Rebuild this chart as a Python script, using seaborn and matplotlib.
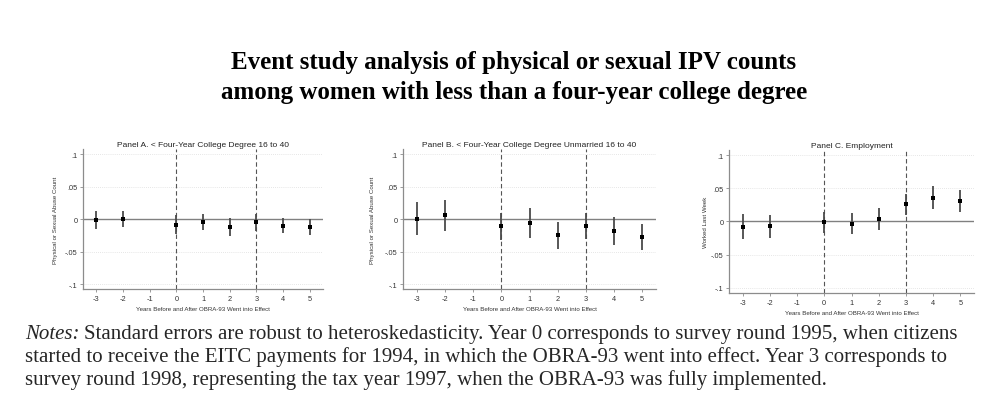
import numpy as np
import pandas as pd
import matplotlib
matplotlib.use('Agg')
import matplotlib.pyplot as plt
import seaborn as sns

# Event-time (years relative to OBRA-93)
years = [-3, -2, 0, 1, 2, 3, 4, 5]

# Panel A: < four-year college degree, 16 to 40
est_a = [-0.002, 0.000, -0.009, -0.004, -0.012, -0.005, -0.010, -0.013]
lo_a = [-0.015, -0.013, -0.023, -0.017, -0.026, -0.018, -0.022, -0.025]
hi_a = [0.012, 0.013, 0.006, 0.008, 0.001, 0.008, 0.001, 0.000]

# Panel B: < four-year college degree, unmarried 16 to 40
est_b = [0.000, 0.006, -0.011, -0.006, -0.025, -0.010, -0.018, -0.027]
lo_b = [-0.025, -0.018, -0.032, -0.029, -0.046, -0.031, -0.040, -0.047]
hi_b = [0.026, 0.030, 0.009, 0.017, -0.005, 0.009, 0.003, -0.008]

# Panel C: employment
est_c = [-0.008, -0.007, -0.001, -0.0035, 0.004, 0.026, 0.036, 0.031]
lo_c = [-0.027, -0.025, -0.017, -0.019, -0.0125, 0.010, 0.019, 0.015]
hi_c = [0.011, 0.010, 0.015, 0.0125, 0.020, 0.042, 0.053, 0.048]

panel_titles = ['Panel A. < Four-Year College Degree 16 to 40',
                'Panel B. < Four-Year College Degree Unmarried 16 to 40',
                'Panel C. Employment']
ylabels = ['Physical or Sexual Abuse Count', 'Physical or Sexual Abuse Count',
           'Worked Last Week']
xlabel = 'Years Before and After OBRA-93 Went into Effect'
xticks = [-3, -2, -1, 0, 1, 2, 3, 4, 5]
yticks = [-0.1, -0.05, 0, 0.05, 0.1]
yticklabels = ['-.1', '-.05', '0', '.05', '.1']
event_lines = [0, 3]

sns.set_theme(style='white')
plt.rcParams['font.family'] = ['Liberation Sans', 'DejaVu Sans']

fig = plt.figure(figsize=(10, 4.14), dpi=100)

# axes boxes in figure fractions
boxes = [[0.083, 0.2995, 0.240, 0.338],
         [0.403, 0.2995, 0.253, 0.338],
         [0.729, 0.2899, 0.245, 0.3454]]
pads = [5, 7, 2]

panels = [(est_a, lo_a, hi_a), (est_b, lo_b, hi_b), (est_c, lo_c, hi_c)]
axis_grey = '#8c8c8c'
text_grey = '#333333'

for i, (est, lo, hi) in enumerate(panels):
    ax = fig.add_axes(boxes[i])
    df = pd.DataFrame({'year': years, 'est': est, 'lo': lo, 'hi': hi})

    # faint dotted grid
    for yv in [-0.1, -0.05, 0.05, 0.1]:
        ax.axhline(yv, color='#dedede', lw=0.6, ls=(0, (1, 1.5)), zorder=0)
    ax.axhline(0, color='#808080', lw=1.0, zorder=1)
    for xv in event_lines:
        ax.axvline(xv, color='#555555', lw=0.8, ls=(0, (4, 2.5)), zorder=1)

    ax.vlines(df['year'], df['lo'], df['hi'], color='#4a4a4a', lw=1.3, zorder=2)
    sns.scatterplot(data=df, x='year', y='est', ax=ax, marker='s', s=8,
                    color='black', edgecolor='black', linewidth=0, zorder=3)

    ax.set_xlim(-3.5, 5.5)
    ax.set_ylim(-0.1077, 0.1077)
    ax.set_xticks(xticks)
    ax.set_xticklabels([str(t) for t in xticks])
    ax.set_yticks(yticks)
    ax.set_yticklabels(yticklabels)
    ax.tick_params(axis='both', labelsize=5.3, colors=axis_grey, labelcolor=text_grey,
                   length=2.5, width=0.6, pad=1.5, direction='out',
                   bottom=True, left=True)

    for side in ['top', 'right']:
        ax.spines[side].set_visible(False)
    for side in ['left', 'bottom']:
        ax.spines[side].set_color(axis_grey)
        ax.spines[side].set_linewidth(0.9)

    ax.set_xlabel(xlabel, fontsize=4.4, color=text_grey, labelpad=3)
    ax.set_ylabel(ylabels[i], fontsize=4.4, color=text_grey, labelpad=pads[i])
    ax.set_title(panel_titles[i], fontsize=6, color='#222222', pad=2)

serif = ['Liberation Serif', 'DejaVu Serif']
fig.text(0.514, 1 - 62 / 414, 'Event study analysis of physical or sexual IPV counts',
         ha='center', va='center', fontsize=18, fontweight='bold', family=serif,
         color='black')
fig.text(0.514, 1 - 92 / 414, 'among women with less than a four-year college degree',
         ha='center', va='center', fontsize=18, fontweight='bold', family=serif,
         color='black')

# notes below the panels
note_lines = [
    'Standard errors are robust to heteroskedasticity. Year 0 corresponds to survey round 1995, when citizens',
    'started to receive the EITC payments for 1994, in which the OBRA-93 went into effect. Year 3 corresponds to',
    'survey round 1998, representing the tax year 1997, when the OBRA-93 was fully implemented.',
]
note_size = 15
note_y = [339, 362, 385]
t = fig.text(0.025, 1 - note_y[0] / 414, 'Notes:', ha='left', va='baseline',
             fontsize=note_size, fontstyle='italic', family=serif)
fig.canvas.draw()
notes_end = t.get_window_extent().x1 / 1000 + 0.005
fig.text(notes_end, 1 - note_y[0] / 414, note_lines[0], ha='left', va='baseline',
         fontsize=note_size, family=serif)
fig.text(0.025, 1 - note_y[1] / 414, note_lines[1], ha='left', va='baseline',
         fontsize=note_size, family=serif)
fig.text(0.025, 1 - note_y[2] / 414, note_lines[2], ha='left', va='baseline',
         fontsize=note_size, family=serif)

fig.savefig('out.png', dpi=100, facecolor='white')
